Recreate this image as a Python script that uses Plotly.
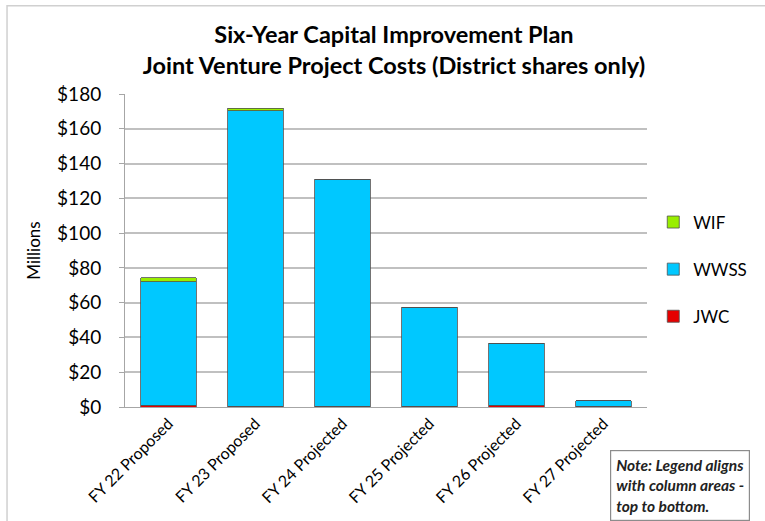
import plotly.graph_objects as go

# Fiscal-year columns
categories = ["FY 22 Proposed", "FY 23 Proposed", "FY 24 Projected",
              "FY 25 Projected", "FY 26 Projected", "FY 27 Projected"]

# District shares, $ millions, stacked bottom to top
jwc = [1.0, 0.3, 0.3, 0.3, 1.0, 0.3]
wwss = [71.0, 170.0, 130.8, 57.2, 35.8, 3.4]
wif = [2.3, 1.6, 0.0, 0.0, 0.0, 0.0]

y_ticks = [0, 20, 40, 60, 80, 100, 120, 140, 160, 180]
y_tick_labels = ["$" + str(v) for v in y_ticks]

FONT = "Lato, 'Open Sans', sans-serif"

fig = go.Figure()
# legend lists the top layer first
series = [("JWC", jwc, "#E60000", 3), ("WWSS", wwss, "#00C8FF", 2), ("WIF", wif, "#99EE00", 1)]
for name, vals, color, rank in series:
    fig.add_trace(go.Bar(
        name=name, x=categories, y=vals, legendgroup=name, legendrank=rank,
        marker=dict(color=color, line=dict(color="#505050", width=0.8)),
        width=0.64,
    ))

fig.update_layout(
    width=765, height=521,
    barmode="stack",
    paper_bgcolor="white", plot_bgcolor="white",
    margin=dict(l=125, r=118, t=94, b=114),
    font=dict(family=FONT, color="#000000"),
    title=dict(
        text="<b>Six-Year Capital Improvement Plan<br>Joint Venture Project Costs (District shares only)</b>",
        x=0.515, xanchor="center", y=0.917, yanchor="top",
        font=dict(size=23.5, family=FONT, color="#000000"),
    ),
    showlegend=True,
    legend=dict(
        x=1.012, xanchor="left", y=0.647, yanchor="top",
        traceorder="grouped", tracegroupgap=22,
        font=dict(size=17, family=FONT), bgcolor="rgba(0,0,0,0)",
        itemwidth=30,
    ),
    xaxis=dict(
        tickangle=-45, tickfont=dict(size=16, family=FONT),
        showline=True, linecolor="#A6A6A6", linewidth=1,
        showgrid=False, ticks="",
    ),
    yaxis=dict(
        range=[0, 180], tickvals=y_ticks, ticktext=y_tick_labels,
        tickfont=dict(size=19, family=FONT),
        showgrid=True, gridcolor="#C0C0C0", gridwidth=1.5,
        showline=True, linecolor="#A6A6A6", linewidth=1,
        ticks="outside", ticklen=5, tickcolor="#A6A6A6",
        ticklabelstandoff=14,
        zeroline=False,
        title=dict(text="Millions", font=dict(size=17, family=FONT), standoff=12),
    ),
    shapes=[
        # outer chart frame
        dict(type="rect", xref="paper", yref="paper",
             x0=-0.226, x1=1.3, y0=-0.5, y1=1.282,
             line=dict(color="#D0D0D0", width=1.5), fillcolor="rgba(0,0,0,0)", layer="below"),
    ],
    annotations=[
        dict(
            text="<b><i>Note: Legend aligns<br>with column areas -<br>top to bottom.</i></b>",
            xref="paper", yref="paper", x=0.93, y=-0.136,
            xanchor="left", yanchor="top", align="left", showarrow=False,
            font=dict(size=15.5, family=FONT, color="#222222"),
            bordercolor="#8C8C8C", borderwidth=1.2, borderpad=5, bgcolor="white",
        ),
    ],
)

fig.write_html("out.html")
